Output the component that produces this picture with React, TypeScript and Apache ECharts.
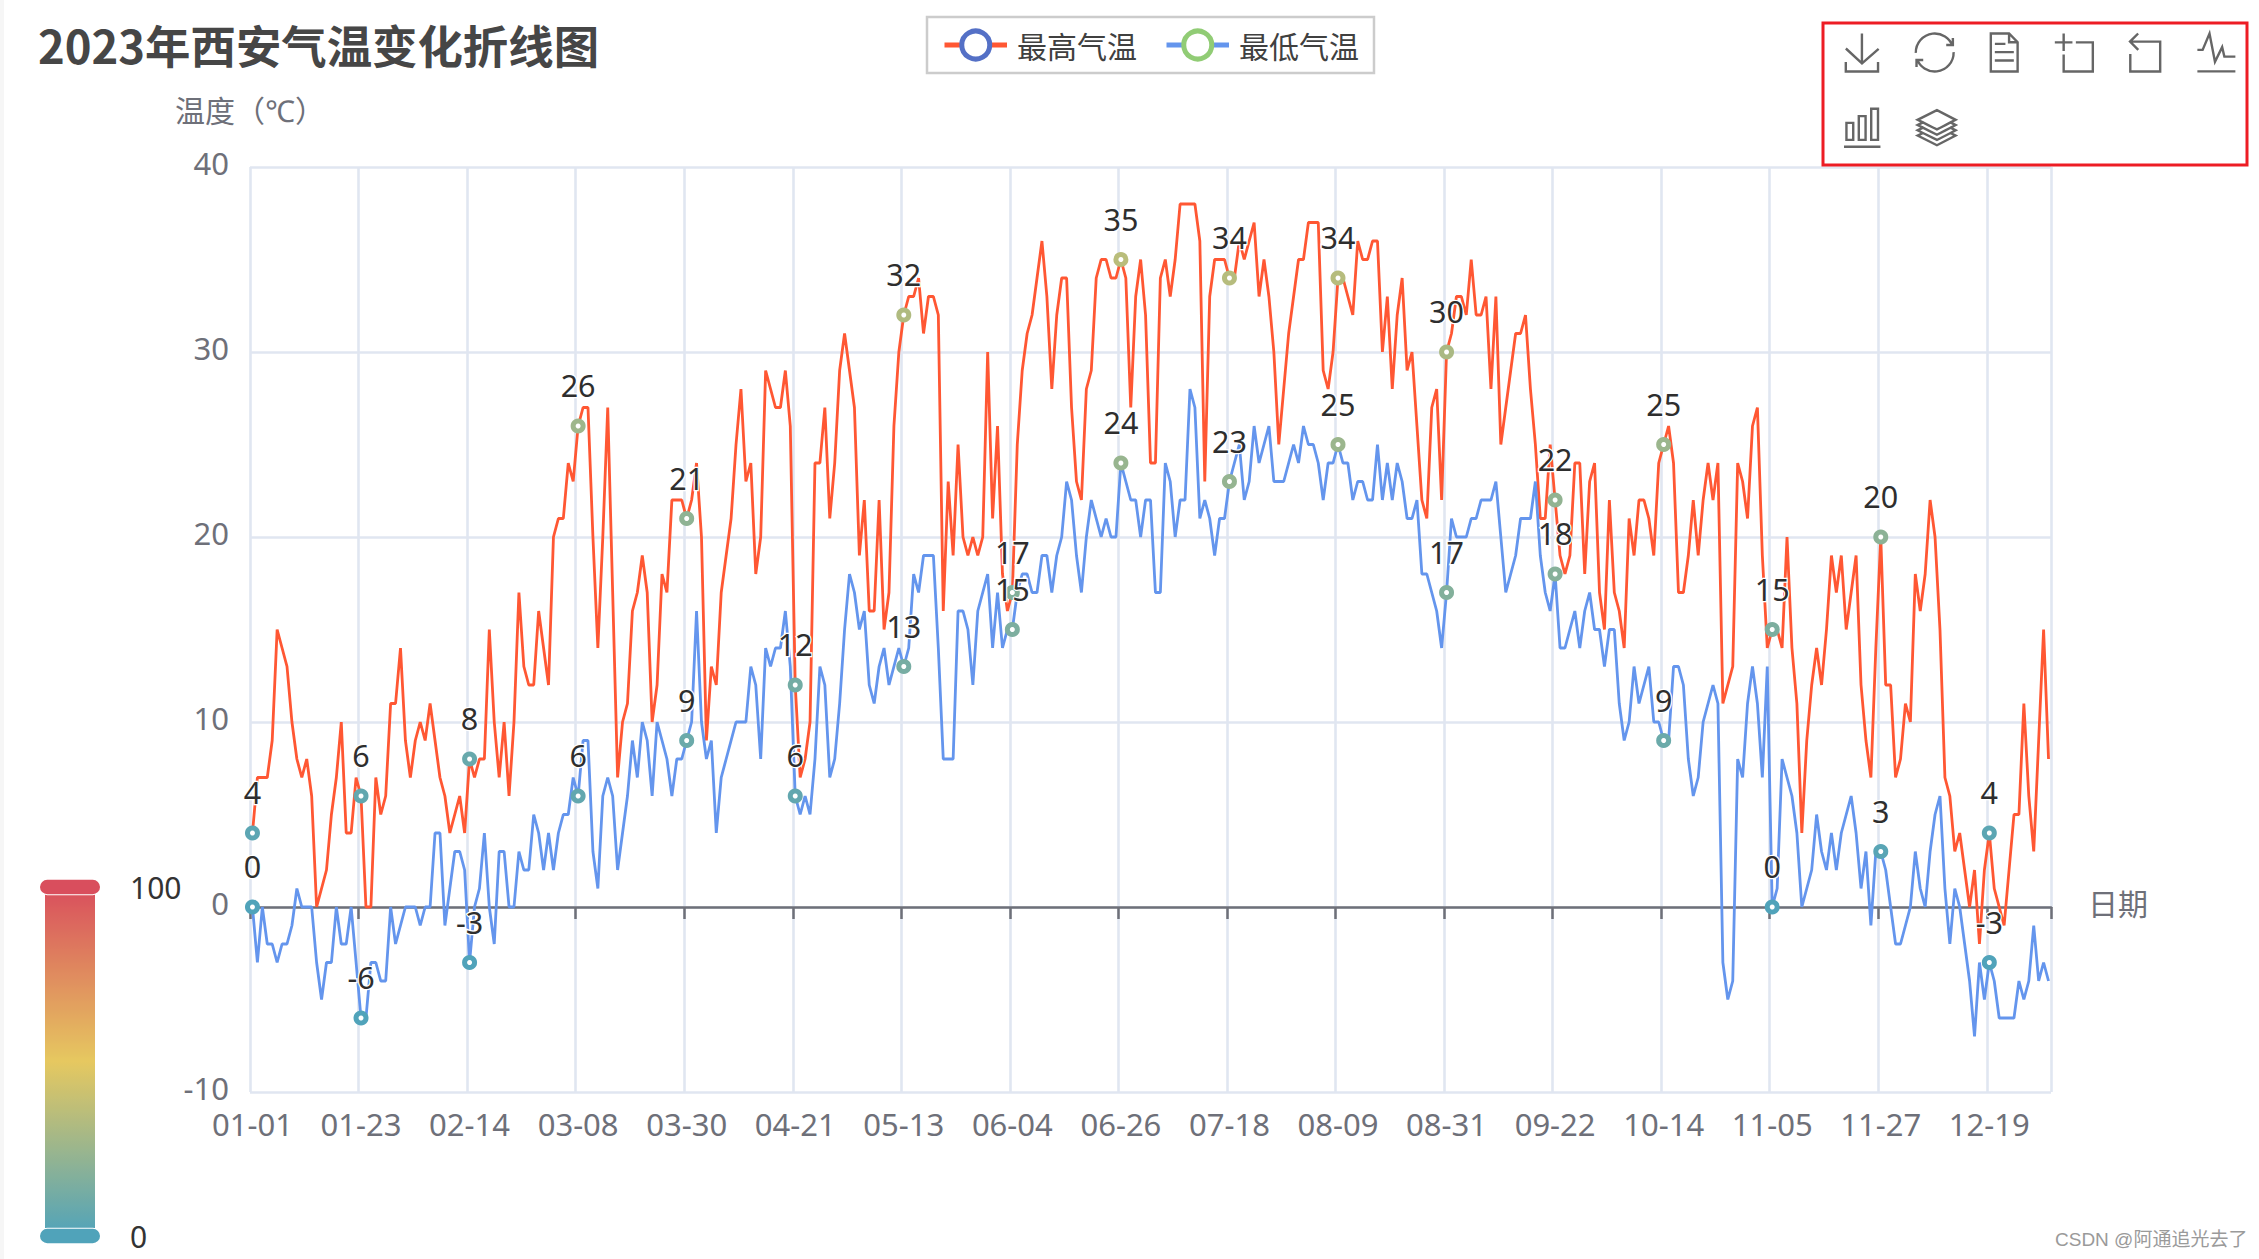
import React, { useEffect, useRef } from "react";
import * as echarts from "echarts";

const titleText = "2023年西安气温变化折线图";
const seriesNames = ["最高气温", "最低气温"];
const yAxisName = "温度（℃）";
const xAxisName = "日期";
const watermark = "CSDN @阿通追光去了";
const monthLengths = [31, 28, 31, 30, 31, 30, 31, 31, 30, 31, 30, 31];
const categories: string[] = [];
monthLengths.forEach((len, m) => {
  for (let d = 1; d <= len; d++) {
    categories.push(String(m + 1).padStart(2, "0") + "-" + String(d).padStart(2, "0"));
  }
});

const maxTemps = [
  4,7,7,7,9,15,14,13,10,8,
  7,8,6,0,1,2,5,7,10,4,
  4,7,6,0,0,7,5,6,11,11,
  14,9,7,9,10,9,11,9,7,6,
  4,5,6,4,8,7,8,8,15,10,
  7,10,6,10,17,13,12,12,16,14,
  12,20,21,21,24,23,26,27,27,20,
  14,20,27,17,7,10,11,16,17,19,
  17,10,12,18,17,22,22,22,21,22,
  24,20,9,13,12,17,19,21,25,28,
  23,24,18,20,29,28,27,27,29,26,
  12,7,8,10,24,24,27,21,24,29,
  31,29,27,19,22,16,16,22,15,17,
  26,30,32,33,33,34,31,33,33,32,
  16,23,19,25,20,19,20,19,20,30,
  21,26,18,16,17,25,29,31,32,34,
  36,33,28,32,34,34,27,23,22,28,
  29,34,35,35,34,34,35,34,27,33,
  35,32,24,24,34,35,33,35,38,38,
  38,38,36,23,33,35,35,35,34,34,
  36,35,36,37,33,35,33,30,25,28,
  31,33,35,35,37,37,37,29,28,30,
  34,34,33,32,36,35,35,36,36,30,
  33,28,32,34,29,30,26,22,21,27,
  28,22,30,31,33,33,32,35,32,32,
  33,28,33,25,27,29,31,31,32,28,
  25,21,21,25,22,19,18,19,24,24,
  18,23,24,17,15,22,17,16,14,21,
  19,22,22,21,19,24,25,26,24,17,
  17,19,22,19,22,24,22,24,11,12,
  13,24,23,21,26,27,19,14,15,15,
  14,20,14,11,4,9,12,14,12,15,
  19,17,19,15,17,19,12,9,7,14,
  20,12,12,7,8,11,10,18,16,18,
  22,20,15,7,6,3,4,2,0,2,
  -2,2,4,1,0,-1,2,5,5,11,
  6,3,9,15,8,
];

const minTemps = [
  0,-3,0,-2,-2,-3,-2,-2,-1,1,
  0,0,0,-3,-5,-3,-3,0,-2,-2,
  0,-3,-6,-6,-3,-3,-4,-4,0,-2,
  -1,0,0,0,-1,0,0,4,4,-1,
  1,3,3,2,-3,0,1,4,0,-2,
  3,3,0,0,3,2,2,5,4,2,
  4,2,4,5,5,7,6,9,9,3,
  1,6,7,6,2,4,6,9,7,10,
  9,6,10,9,8,6,8,8,9,10,
  16,10,8,9,4,7,8,9,10,10,
  10,13,12,8,14,13,14,14,16,13,
  6,5,6,5,8,13,12,7,8,11,
  15,18,17,15,16,12,11,13,14,12,
  13,14,13,14,18,17,19,19,19,14,
  8,8,8,16,16,15,12,16,17,18,
  14,17,14,15,15,17,18,18,17,17,
  19,19,17,19,20,23,22,19,17,20,
  22,21,20,21,20,20,24,23,22,22,
  20,22,22,17,17,24,23,20,22,22,
  28,27,21,22,21,19,21,21,23,24,
  25,22,23,26,24,25,26,23,23,23,
  24,25,24,26,25,25,24,22,24,24,
  25,24,24,22,23,23,22,22,25,22,
  24,22,24,23,21,21,22,18,18,17,
  16,14,17,21,20,20,20,21,21,22,
  22,22,23,20,17,18,19,21,21,21,
  23,19,17,16,18,14,14,15,16,14,
  16,17,15,15,13,15,15,11,9,10,
  13,11,12,13,10,10,9,9,13,13,
  12,8,6,7,10,11,12,11,-3,-5,
  -4,8,7,11,13,11,7,13,0,1,
  8,7,6,4,0,1,2,5,3,2,
  4,2,4,5,6,4,1,3,-1,3,
  3,2,0,-2,-2,-1,0,3,1,0,
  3,5,6,1,-2,1,0,-2,-4,-7,
  -3,-5,-3,-4,-6,-6,-6,-6,-4,-5,
  -4,-1,-4,-3,-4,
];

const FONT = "'Noto Sans','Noto Sans CJK SC',sans-serif";

function lineSeries(name: string, data: number[], color: string) {
  return {
    name,
    type: "line",
    data,
    symbol: "emptyCircle",
    symbolSize: 10,
    showSymbol: true,
    lineStyle: { color, width: 2.8 },
    label: {
      show: true,
      position: "top",
      distance: 18,
      fontSize: 30.5,
      color: "#2e2e2e",
      textBorderColor: "#fff",
      textBorderWidth: 2.5,
      fontFamily: FONT,
    },
  };
}

export default function App() {
  const ref = useRef<HTMLDivElement>(null);
  useEffect(() => {
    document.body.style.margin = "0";
    const chart = echarts.init(ref.current!, undefined, { renderer: "svg" });
    chart.setOption({
      animation: false,
      backgroundColor: "#fff",
      color: ["#5470c6", "#91cc75"],
      textStyle: { fontFamily: FONT },
      title: {
        text: titleText,
        left: 38,
        top: 21,
        padding: 0,
        textStyle: { fontSize: 45.4, fontWeight: "bold", color: "#464646", fontFamily: "'Noto Sans CJK SC'" },
      },
      legend: {
        left: 927,
        top: 17,
        data: seriesNames,
        show: true,
        padding: [13, 15],
        borderColor: "#ccc",
        borderWidth: 2.5,
        itemWidth: 62.5,
        itemHeight: 35,
        itemGap: 27,
        lineStyle: { width: 5 },
        textStyle: { fontSize: 30, color: "#404040", padding: [0, 0, 0, 5], fontFamily: "'Noto Sans CJK SC'" },
      },
      toolbox: {
        show: true,
        left: 1841.5,
        top: 31,
        width: 430,
        padding: 0,
        itemSize: 38,
        itemGap: 32.2,
        iconStyle: { borderColor: "#666", borderWidth: 2.4 },
        feature: {
          saveAsImage: {},
          restore: {},
          dataView: {},
          dataZoom: {},
          magicType: { type: ["line", "bar", "stack"] },
        },
      },
      visualMap: {
        type: "continuous",
        min: 0,
        max: 100,
        calculable: true,
        left: 24,
        top: 857,
        itemWidth: 50,
        itemHeight: 349,
        textGap: 32,
        inRange: { color: ["#50a3ba", "#e6c860", "#d94e5d"] },
        textStyle: { fontSize: 30, color: "#333", fontFamily: FONT },
      },
      grid: { left: 250, right: 208, top: 167, bottom: 167 },
      xAxis: {
        type: "category",
        data: categories,
        name: xAxisName,
        nameGap: 37,
        nameTextStyle: { fontSize: 30, color: "#6E7079", verticalAlign: "bottom", lineHeight: 8 },
        axisLine: { lineStyle: { color: "#6E7079", width: 2.5 } },
        axisTick: { show: true, length: 12, lineStyle: { color: "#6E7079", width: 2.5 }, interval: 21 },
        axisLabel: { interval: 21, fontSize: 31, color: "#6E7079", margin: 16 },
        splitLine: { show: true, interval: 21, lineStyle: { color: "#E0E6F1", width: 2.6 } },
      },
      yAxis: {
        type: "value",
        min: -10,
        max: 40,
        interval: 10,
        name: yAxisName,
        nameGap: 42,
        nameTextStyle: { fontSize: 30, color: "#6E7079", align: "center" },
        axisLabel: { fontSize: 31, color: "#6E7079", margin: 21, verticalAlign: "bottom", lineHeight: 8 },
        splitLine: { show: true, lineStyle: { color: "#E0E6F1", width: 2.6 } },
      },
      series: [
        lineSeries(seriesNames[0], maxTemps, "#ff5733"),
        lineSeries(seriesNames[1], minTemps, "#6495ed"),
      ],
      graphic: [
        { type: "rect", z: 100, shape: { x: 1823, y: 23, width: 424, height: 142 }, style: { fill: "none", stroke: "#ed1c24", lineWidth: 3 } },
        { type: "rect", z: 100, shape: { x: 0, y: 0, width: 4, height: 1259 }, style: { fill: "#f6f6f6" } },
        { type: "text", z: 100, x: 2055, y: 1230, style: { text: watermark, fontSize: 19, fill: "#9a9a9a", fontFamily: "'Liberation Sans','Noto Sans CJK SC'" } },
      ],
    });
    // ECharts pins a hollow symbol's stroke to 2px; the reference rings are heavier.
    const zr = (chart as any).getZr();
    zr.storage.getDisplayList(true).forEach((el: any) => {
      if (el.__isEmptyBrush) {
        el.style.lineWidth = 5;
        el.dirty();
      }
    });
    zr.refreshImmediately();
    return () => chart.dispose();
  }, []);
  return <div ref={ref} style={{ position: "fixed", left: 0, top: 0, width: 2259, height: 1259 }} />;
}
